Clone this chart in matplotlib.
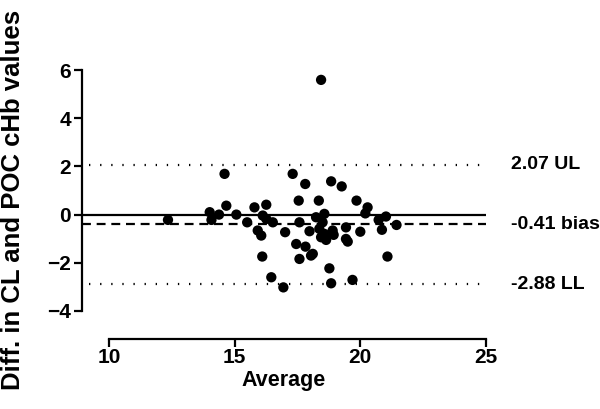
import matplotlib
matplotlib.use("Agg")
import matplotlib.pyplot as plt

plt.rcParams["font.family"] = ["Liberation Sans", "DejaVu Sans"]
plt.rcParams["font.weight"] = "bold"

# Bland-Altman data: average vs difference (CL - POC cHb)
avg = [12.35, 14.60, 14.01, 14.08, 14.38, 14.67, 15.07, 15.50, 15.79, 16.26,
       16.12, 16.26, 16.52, 15.92, 16.06, 16.10, 16.46, 16.94, 17.01, 17.31,
       17.81, 17.55, 17.58, 17.98, 17.45, 17.82, 17.58, 18.04, 18.24, 18.35,
       18.84, 19.26, 19.85, 20.29, 20.20, 21.02, 20.73, 21.44, 20.86, 21.08,
       20.00, 19.43, 19.43, 19.50, 18.94, 18.77, 18.84, 19.69, 18.11, 18.57,
       18.50, 18.37, 18.57, 18.64, 18.44, 18.90, 18.44]
diff = [-0.22, 1.69, 0.10, -0.22, 0.00, 0.37, 0.00, -0.32, 0.30, 0.41,
        -0.04, -0.18, -0.32, -0.66, -0.87, -1.74, -2.60, -3.02, -0.73, 1.69,
        1.27, 0.58, -0.32, -0.69, -1.22, -1.33, -1.84, -1.70, -0.11, 0.58,
        1.38, 1.17, 0.58, 0.30, 0.05, -0.08, -0.22, -0.43, -0.63, -1.74,
        -0.71, -0.53, -1.01, -1.12, -0.84, -2.23, -2.85, -2.71, -1.63, 0.03,
        -0.32, -0.59, -0.80, -1.05, -0.94, -0.66, 5.59]

bias = -0.41
upper = 2.07
lower = -2.88
ref_labels = ["2.07 UL", "-0.41 bias", "-2.88 LL"]

fig = plt.figure(figsize=(6, 4.09), dpi=100)
ax = fig.add_axes([82 / 600, 1 - 311 / 409, (486 - 82) / 600, (311 - 70) / 409])

x0, x1 = 8.93, 25
ax.set_xlim(x0, x1)
ax.set_ylim(-4, 6)

ax.hlines(0, x0, x1, colors="black", linewidth=1.6, zorder=2)
ax.hlines(bias, x0, x1, colors="black", linewidth=1.6, linestyles=(0, (4, 2.6)), zorder=2)
ax.hlines([upper, lower], 9.2, x1, colors="black", linewidth=1.6, linestyles=(0, (0.6, 4.4)), zorder=2)

ax.scatter(avg, diff, s=55, color="black", edgecolors="none", zorder=3, clip_on=False)

for val, lab in zip([upper, bias, lower], ref_labels):
    ax.text(1.063, val, lab, transform=ax.get_yaxis_transform(), va="center", ha="left",
            fontsize=14, fontweight="bold")

ax.set_xticks([10, 15, 20, 25])
ax.set_yticks([-4, -2, 0, 2, 4, 6])
ax.spines["top"].set_visible(False)
ax.spines["right"].set_visible(False)
ax.spines["bottom"].set_position(("outward", 20))
ax.spines["bottom"].set_bounds(10, 25)
ax.spines["left"].set_bounds(-4, 6)
for sp in ("left", "bottom"):
    ax.spines[sp].set_linewidth(1.6)
ax.tick_params(width=1.6, length=6, labelsize=15, pad=2)
ax.tick_params(axis="x", pad=0.5)
for lab in ax.get_xticklabels() + ax.get_yticklabels():
    lab.set_fontweight("bold")

ax.set_xlabel("Average", fontsize=15.5, fontweight="bold", labelpad=2)
ax.set_ylabel("Diff. in CL and POC cHb values", fontsize=18.5, fontweight="bold")
ax.yaxis.set_label_coords(-0.14, 0.46)

fig.savefig("out.png", dpi=100)
